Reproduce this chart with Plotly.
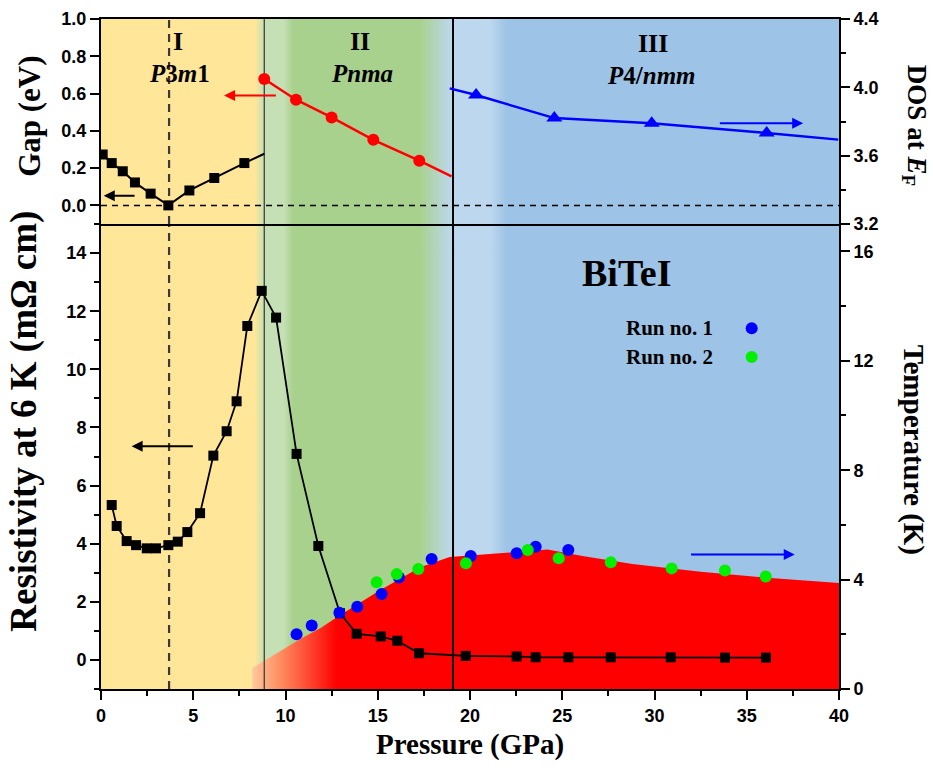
import plotly.graph_objects as go

# ---------------------------------------------------------------- data
# phase boundaries (GPa)
p_gap_closing = 3.69
p_I_II = 8.85
p_II_III = 19.08

# band gap in phase I (eV); last entry is the end of the guide line
gap_I_p = [0.09, 0.58, 1.18, 1.84, 2.69, 3.65, 4.79, 6.14, 7.77, 8.85]
gap_I = [0.273, 0.227, 0.183, 0.123, 0.063, 0.0, 0.08, 0.147, 0.227, 0.277]

# band gap in phase II (eV); last entry is the end of the guide line
gap_II_p = [8.85, 10.57, 12.5, 14.76, 17.25, 19.0]
gap_II = [0.678, 0.567, 0.472, 0.352, 0.24, 0.156]

# DOS at E_F in phase III; first and last entries are guide-line ends
dos_III_p = [18.9, 20.33, 24.57, 29.85, 36.08, 39.96]
dos_III = [3.994, 3.955, 3.82, 3.79, 3.733, 3.694]

# resistivity at 6 K (mOhm cm)
res_p = [0.58, 0.85, 1.39, 1.90, 2.48, 2.98, 3.65, 4.16, 4.68, 5.37, 6.09,
         6.81, 7.35, 7.93, 8.71, 9.49, 10.60, 11.78, 12.95, 13.86, 15.16,
         16.06, 17.24, 19.77, 22.53, 23.56, 25.33, 27.63, 30.88, 33.82, 36.04]
res = [5.33, 4.61, 4.09, 3.95, 3.84, 3.84, 3.95, 4.07, 4.40, 5.05, 7.03,
       7.87, 8.90, 11.49, 12.70, 11.78, 7.09, 3.92, 1.61, 0.90, 0.81,
       0.66, 0.23, 0.14, 0.12, 0.09, 0.09, 0.09, 0.09, 0.08, 0.08]

# superconducting Tc (K)
tc_run1_p = [10.6, 11.42, 12.92, 13.89, 15.21, 16.15, 17.92, 20.04, 22.53, 23.56, 25.33]
tc_run1 = [2.0, 2.32, 2.79, 3.01, 3.47, 4.08, 4.75, 4.86, 4.96, 5.2, 5.08]
tc_run2_p = [14.94, 16.03, 17.2, 19.78, 23.13, 24.81, 27.63, 30.93, 33.82, 36.03]
tc_run2 = [3.9, 4.2, 4.39, 4.6, 5.08, 4.78, 4.63, 4.41, 4.33, 4.11]

# upper edge of the superconducting dome (K)
dome_p = [8.2, 8.2, 10.8, 11.9, 12.95, 15.1, 17.3, 18.9, 21.6, 24.2, 26.1,
          28.8, 32.5, 36.1, 40.0, 40.0]
dome_T = [0.0, 0.77, 1.83, 2.23, 2.7, 3.6, 4.45, 4.83, 4.96, 5.1, 4.86,
          4.57, 4.29, 4.07, 3.88, 0.0]

# axis ranges
P_RANGE = [0, 40]
GAP_RANGE = [-0.1, 1.0]
DOS_RANGE = [3.2, 4.4]
RES_RANGE = [-1, 15]
T_RANGE = [0, 17]

# ---------------------------------------------------------------- styles
SERIF = "Liberation Serif, Times New Roman, serif"
SANS = "Liberation Sans, Arial, sans-serif"
TICK_FONT = dict(family=SANS, size=18, color="black", weight="bold")

YELLOW, LGREEN, GREEN = "#FFE699", "#C5E0B4", "#A9D18E"
LBLUE, BLUE_BG = "#BDD7EE", "#9DC3E6"
# colour stops of the phase-region background, by pressure
bg_stops = [(0.0, YELLOW), (8.35, YELLOW), (p_I_II, LGREEN), (9.9, LGREEN),
            (10.4, GREEN), (17.3, GREEN), (19.0, LBLUE), (21.1, LBLUE),
            (22.0, BLUE_BG), (40.0, BLUE_BG)]
bg_scale = [[p / 40.0, c] for p, c in bg_stops]

dome_stops = [(8.2, "#FFC89C"), (9.8, "#FF8A5E"), (12.8, "#FF0000"), (40.0, "#FF0000")]
dome_scale = [[(p - 8.2) / (40.0 - 8.2), c] for p, c in dome_stops]

fig = go.Figure()


def band_background(yr, xa, ya):
    fig.add_trace(go.Scatter(
        x=[P_RANGE[0], P_RANGE[1], P_RANGE[1], P_RANGE[0], P_RANGE[0]],
        y=[yr[0], yr[0], yr[1], yr[1], yr[0]],
        mode="lines", line=dict(width=0), fill="toself",
        fillgradient=dict(type="horizontal", colorscale=bg_scale,
                          start=P_RANGE[0], stop=P_RANGE[1]),
        hoverinfo="skip", xaxis=xa, yaxis=ya))


def vline(p, yr, xa, ya, color, width, dash="solid"):
    fig.add_trace(go.Scatter(x=[p, p], y=yr, mode="lines",
                             line=dict(color=color, width=width, dash=dash),
                             hoverinfo="skip", xaxis=xa, yaxis=ya))


def curve(px, vals, xa, ya, color, lw, symbol, size, first, last):
    """Guide line through all points, markers on points [first:last]."""
    fig.add_trace(go.Scatter(x=px, y=vals, mode="lines",
                             line=dict(color=color, width=lw),
                             hoverinfo="skip", xaxis=xa, yaxis=ya))
    fig.add_trace(go.Scatter(x=px[first:last], y=vals[first:last],
                             mode="markers",
                             marker=dict(symbol=symbol, color=color, size=size,
                                         line=dict(width=0)),
                             xaxis=xa, yaxis=ya))


# ---------------------------------------------------------------- top panel
band_background(GAP_RANGE, "x2", "y3")
fig.add_trace(go.Scatter(x=P_RANGE, y=[0, 0], mode="lines",
                         line=dict(color="black", width=1.5, dash="6px,5px"),
                         hoverinfo="skip", xaxis="x2", yaxis="y3"))
vline(p_gap_closing, GAP_RANGE, "x2", "y3", "#3a3a3a", 2.2, "8px,6px")
vline(p_I_II, GAP_RANGE, "x2", "y3", "#404040", 1.3)
vline(p_II_III, GAP_RANGE, "x2", "y3", "black", 2)

curve(gap_I_p, gap_I, "x2", "y3", "black", 2, "square", 10, 0, -1)
curve(gap_II_p, gap_II, "x2", "y3", "#FF0000", 2.5, "circle", 12, 0, -1)
curve(dos_III_p, dos_III, "x2", "y4", "#0000FF", 2.5, "triangle-up", 14, 1, -1)

# ---------------------------------------------------------------- bottom panel
band_background(RES_RANGE, "x", "y")

fig.add_trace(go.Scatter(
    x=dome_p, y=dome_T, mode="lines", line=dict(width=0), fill="toself",
    fillgradient=dict(type="horizontal", colorscale=dome_scale,
                      start=dome_p[0], stop=dome_p[-1]),
    hoverinfo="skip", xaxis="x", yaxis="y2"))
vline(p_gap_closing, T_RANGE, "x", "y2", "#3a3a3a", 2.2, "8px,6px")
vline(p_I_II, T_RANGE, "x", "y2", "#404040", 1.3)
vline(p_II_III, T_RANGE, "x", "y2", "black", 2)

fig.add_trace(go.Scatter(
    x=res_p, y=res, mode="lines+markers",
    line=dict(color="black", width=1.8),
    marker=dict(symbol="square", color="black", size=10),
    xaxis="x", yaxis="y5"))

fig.add_trace(go.Scatter(
    x=tc_run1_p, y=tc_run1, mode="markers", name="Run no. 1",
    marker=dict(symbol="circle", color="#0000FF", size=12),
    xaxis="x", yaxis="y6"))
fig.add_trace(go.Scatter(
    x=tc_run2_p, y=tc_run2, mode="markers", name="Run no. 2",
    marker=dict(symbol="circle", color="#00F000", size=12),
    xaxis="x", yaxis="y6"))

# ---------------------------------------------------------------- axes
split = 0.694
common = dict(showgrid=False, zeroline=False, showline=True, linecolor="black",
              linewidth=2, ticks="outside", ticklen=9, tickwidth=2,
              tickcolor="black", tickfont=TICK_FONT, automargin=False)

fig.update_layout(
    width=933, height=774,
    margin=dict(l=101, r=94, t=19, b=85),
    paper_bgcolor="white", plot_bgcolor="white",
    showlegend=False,
    xaxis=dict(domain=[0, 1], range=P_RANGE, anchor="y",
               tick0=0, dtick=5,
               minor=dict(dtick=2.5, ticks="outside", ticklen=5, tickwidth=2,
                          tickcolor="black"),
               **common),
    xaxis2=dict(domain=[0, 1], range=P_RANGE, anchor="y3", matches="x",
                showticklabels=False, showgrid=False, zeroline=False,
                showline=True, mirror=True, linecolor="black", linewidth=1.5,
                ticks="", automargin=False),
    yaxis=dict(domain=[0, split], range=RES_RANGE, anchor="x",
               tick0=0, dtick=2,
               minor=dict(dtick=1, ticks="outside", ticklen=5, tickwidth=2,
                          tickcolor="black"),
               **common),
    yaxis2=dict(overlaying="y", side="right", anchor="x", range=T_RANGE,
                tick0=0, dtick=4,
                minor=dict(dtick=2, ticks="outside", ticklen=5, tickwidth=2,
                           tickcolor="black"),
                **common),
    yaxis3=dict(domain=[split, 1], range=GAP_RANGE, anchor="x2",
                tick0=0, dtick=0.2, tickformat=".1f", **common),
    yaxis4=dict(overlaying="y3", side="right", anchor="x2", range=DOS_RANGE,
                tick0=3.2, dtick=0.4, tickformat=".1f",
                minor=dict(dtick=0.2, ticks="outside", ticklen=5, tickwidth=2,
                           tickcolor="black"),
                **common),
    yaxis5=dict(overlaying="y", anchor="x", range=RES_RANGE, visible=False),
    yaxis6=dict(overlaying="y", anchor="x", range=T_RANGE, visible=False),
)

# ---------------------------------------------------------------- text
def label(text, x, y, size, angle=0, xshift=0, yshift=0, xanchor="center"):
    fig.add_annotation(text=text, x=x, y=y, xref="paper", yref="paper",
                       xanchor=xanchor, yanchor="middle", textangle=angle,
                       xshift=xshift, yshift=yshift, showarrow=False,
                       font=dict(family=SERIF, size=size, color="black",
                                 weight="bold"))


label("Gap (eV)", 0, 0.854, 31, angle=-90, xshift=-71)
label("Resistivity at 6 K (mΩ cm)", 0, 0.399, 37, angle=-90, xshift=-77)
label("DOS at <i>E</i><sub>F</sub>", 1, 0.842, 27, angle=90, xshift=76)
label("Temperature (K)", 1, 0.357, 29, angle=90, xshift=74)
label("Pressure (GPa)", 0.5, 0, 29, yshift=-55)

label("I", 0.1043, 0.9657, 26)
label("<i>P</i>3<i>m</i>1", 0.107, 0.9194, 25)
label("II", 0.351, 0.9657, 26)
label("<i>Pnma</i>", 0.3532, 0.9194, 25)
label("III", 0.748, 0.964, 26)
label("<i>P</i>4/<i>nmm</i>", 0.746, 0.915, 25)
label("BiTeI", 0.7123, 0.6204, 38)
label("Run no. 1", 0.832, 0.5384, 21, xanchor="right")
label("Run no. 2", 0.832, 0.4955, 21, xanchor="right")

# legend keys for the two runs
for yk, col in [(0.5384, "#0000FF"), (0.4955, "#00F000")]:
    fig.add_shape(type="circle", xref="paper", yref="paper",
                  xsizemode="pixel", ysizemode="pixel",
                  xanchor=0.8817, yanchor=yk, x0=-6, x1=6, y0=-6, y1=6,
                  fillcolor=col, line=dict(width=0))

# arrows pointing to the axis each curve belongs to
arrows = [
    # (tail_p, head_p, value, xref, yref, colour)
    (1.9, 0.15, 0.052, "x2", "y3", "black"),
    (9.56, 6.67, 0.59, "x2", "y3", "#FF0000"),
    (33.46, 38.06, 3.79, "x2", "y4", "#0000FF"),
    (5.06, 1.66, 7.35, "x", "y", "black"),
    (31.9, 37.6, 4.92, "x", "y2", "#0000FF"),
]
for tail, head, val, xr, yr, col in arrows:
    fig.add_annotation(x=head, y=val, ax=tail, ay=val, xref=xr, yref=yr,
                       axref=xr, ayref=yr, text="", showarrow=True,
                       arrowhead=2, arrowsize=1.1, arrowwidth=2,
                       arrowcolor=col, standoff=0, startstandoff=0)

fig.write_html("out.html")
